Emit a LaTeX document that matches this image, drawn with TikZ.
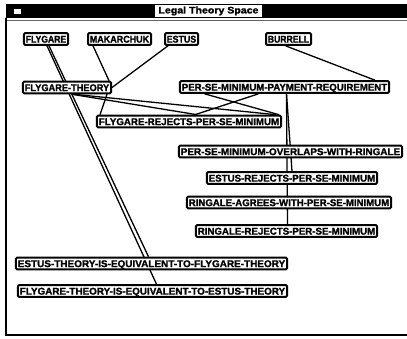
\documentclass[tikz,border=0pt]{standalone}
\usepackage{fontspec}
\setmainfont{Liberation Sans}
\newfontfamily\heavyfont{Liberation Sans Bold}[FakeBold=1.6]
\usepackage{graphicx}
\newcommand{\fitw}[2]{\resizebox{#1pt}{\height}{#2}}
\begin{document}
\begin{tikzpicture}[x=1pt,y=-1pt,
  box/.style={draw, line width=2pt, fill=white, rounded corners=1pt,
    inner xsep=1.8pt, inner ysep=2.2pt, text height=7.2pt, text depth=0pt,
    font=\heavyfont\fontsize{9.8}{10}\selectfont},
  edge/.style={line width=1.3pt},
  frame/.style={line width=1.5pt}]
\useasboundingbox[fill=white] (0,0) rectangle (407,339);
% window frame
\fill[black] (6,4) rectangle (407,18);
\fill[white] (14,9) rectangle (21,14);
\node[fill=white, inner sep=0pt, minimum width=107pt, minimum height=12pt,
  font=\heavyfont\fontsize{9.5}{9.5}\selectfont] (title) at (208.5,11) {\fitw{100}{Legal Theory Space}};
\draw[frame] (6,18) -- (6,335) -- (407,335);
\draw[line width=0.6pt, black!60] (7,20) -- (407,20);
\pgfdeclarelayer{fg}
\pgfsetlayers{main,fg}
\begin{pgfonlayer}{fg}
\node[box] (fly) at (46,39) {\fitw{40.4}{FLYGARE}};
\node[box] (mak) at (119.5,39) {\fitw{59.4}{MAKARCHUK}};
\node[box] (est) at (181.5,39) {\fitw{29.4}{ESTUS}};
\node[box] (bur) at (288.5,39) {\fitw{41.4}{BURRELL}};
\node[box] (ft) at (67,87.5) {\fitw{84.4}{FLYGARE-THEORY}};
\node[box] (pp) at (284.5,87) {\fitw{205.4}{PER-SE-MINIMUM-PAYMENT-REQUIREMENT}};
\node[box] (fr) at (189,121.5) {\fitw{180.4}{FLYGARE-REJECTS-PER-SE-MINIMUM}};
\node[box] (po) at (290.5,151.5) {\fitw{219.4}{PER-SE-MINIMUM-OVERLAPS-WITH-RINGALE}};
\node[box] (er) at (292,178) {\fitw{166.4}{ESTUS-REJECTS-PER-SE-MINIMUM}};
\node[box] (ra) at (289,202.5) {\fitw{200.4}{RINGALE-AGREES-WITH-PER-SE-MINIMUM}};
\node[box] (rr) at (286.5,231) {\fitw{177.4}{RINGALE-REJECTS-PER-SE-MINIMUM}};
\node[box] (ete) at (151.5,263.5) {\fitw{267.4}{ESTUS-THEORY-IS-EQUIVALENT-TO-FLYGARE-THEORY}};
\node[box] (fte) at (152.5,291) {\fitw{265.4}{FLYGARE-THEORY-IS-EQUIVALENT-TO-ESTUS-THEORY}};
\end{pgfonlayer}
% connectors
\draw[edge] ([xshift=3pt]fly.south) -- ([xshift=-3pt]ete.north);
\draw[edge] ([xshift=1pt]fly.south) -- ([xshift=4pt]fte.north);
\draw[edge] ([xshift=6pt]mak.south west) -- ([xshift=-3pt]ft.north east);
\draw[edge] ([xshift=4pt]est.south west) -- (ft.east);
\draw[edge] ([xshift=-5pt]ft.south east) -- ([xshift=4pt]fr.north west);
\draw[edge] ([xshift=-3pt]bur.south) -- ([xshift=-15pt]pp.north east);
\draw[edge] ([xshift=5pt]ft.south) -- ([xshift=8pt]fr.north);
\draw[edge] ([xshift=7pt]ft.south) -- ([xshift=-6pt]fr.north east);
\draw[edge] ([xshift=-80pt]pp.south) -- ([xshift=-3pt]fr.north east);
\draw[edge] ([xshift=-26pt]pp.south) -- ([xshift=6pt]fr.north);
\draw[edge] ([xshift=2pt]pp.south) -- ([xshift=1pt]rr.north);
\draw[edge] ([xshift=2pt]pp.south) -- (er.north);
\end{tikzpicture}
\end{document}
